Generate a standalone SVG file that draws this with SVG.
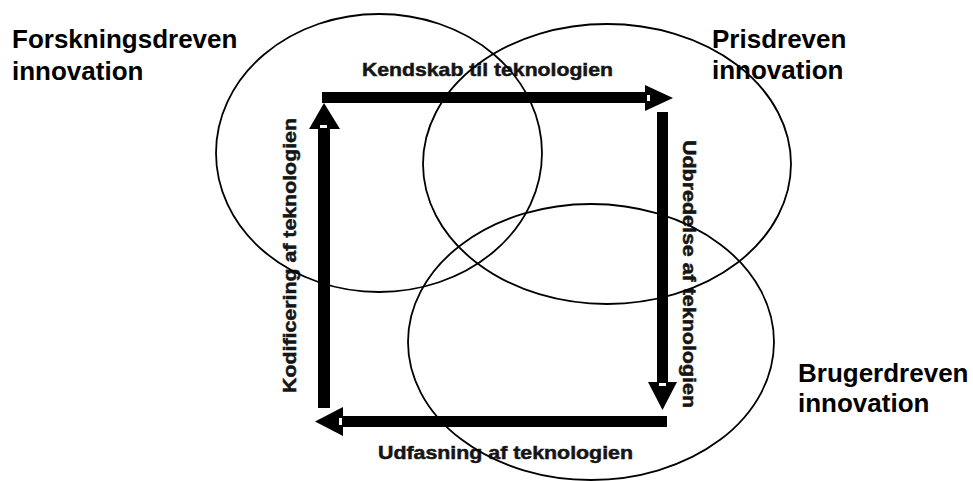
<svg xmlns="http://www.w3.org/2000/svg" width="973" height="481" viewBox="0 0 973 481">
  <style>
    .ell { fill: none; stroke: #000; stroke-width: 1.8; }
    .lbl { font-family: "Liberation Sans", Arial, sans-serif; font-weight: bold; font-size: 26px; fill: #000; }
    .alb { font-family: "Liberation Sans", Arial, sans-serif; font-weight: bold; font-size: 18.5px; fill: #151515; stroke: #151515; stroke-width: 0.5; }
    .bar { fill: #000; }
    .gap { fill: #fff; }
  </style>
  <rect width="973" height="481" fill="#fff"/>

  <g id="connectors">
    <g id="arrow-top">
      <rect class="bar" x="322" y="92" width="324" height="11"/>
      <polygon class="bar" points="645,85 673,98 645,111"/>
      <rect class="gap" x="647" y="95" width="3" height="6"/>
      <text class="alb" x="362" y="76" textLength="251" lengthAdjust="spacingAndGlyphs">Kendskab til teknologien</text>
    </g>
    <g id="arrow-right">
      <rect class="bar" x="657" y="112" width="11" height="271"/>
      <polygon class="bar" points="648,382 662.5,410 677,382"/>
      <rect class="gap" x="659" y="383" width="7" height="3"/>
      <text class="alb" transform="translate(683,140) rotate(90)" textLength="268" lengthAdjust="spacingAndGlyphs">Udbredelse af teknologien</text>
    </g>
    <g id="arrow-bottom">
      <rect class="bar" x="342" y="416" width="325" height="11"/>
      <polygon class="bar" points="343,407 315,421.5 343,436"/>
      <rect class="gap" x="339" y="418" width="3" height="7"/>
      <text class="alb" x="378" y="459" textLength="255" lengthAdjust="spacingAndGlyphs">Udfasning af teknologien</text>
    </g>
    <g id="arrow-left">
      <rect class="bar" x="318" y="128" width="12" height="280"/>
      <polygon class="bar" points="309,129 324,103 340,129"/>
      <rect class="gap" x="320" y="125" width="7" height="3"/>
      <text class="alb" transform="translate(296,393) rotate(-90)" textLength="275" lengthAdjust="spacingAndGlyphs">Kodificering af teknologien</text>
    </g>
  </g>

  <g id="forskningsdreven">
    <ellipse class="ell" cx="379" cy="153" rx="163" ry="139"/>
    <text class="lbl" x="12" y="48">Forskningsdreven</text>
    <text class="lbl" x="12" y="79.5">innovation</text>
  </g>

  <g id="prisdreven">
    <ellipse class="ell" cx="607" cy="164" rx="184" ry="140"/>
    <text class="lbl" x="712" y="48">Prisdreven</text>
    <text class="lbl" x="712" y="79">innovation</text>
  </g>

  <g id="brugerdreven">
    <ellipse class="ell" cx="591" cy="342" rx="183" ry="138"/>
    <text class="lbl" x="798" y="382">Brugerdreven</text>
    <text class="lbl" x="798" y="412">innovation</text>
  </g>
</svg>
